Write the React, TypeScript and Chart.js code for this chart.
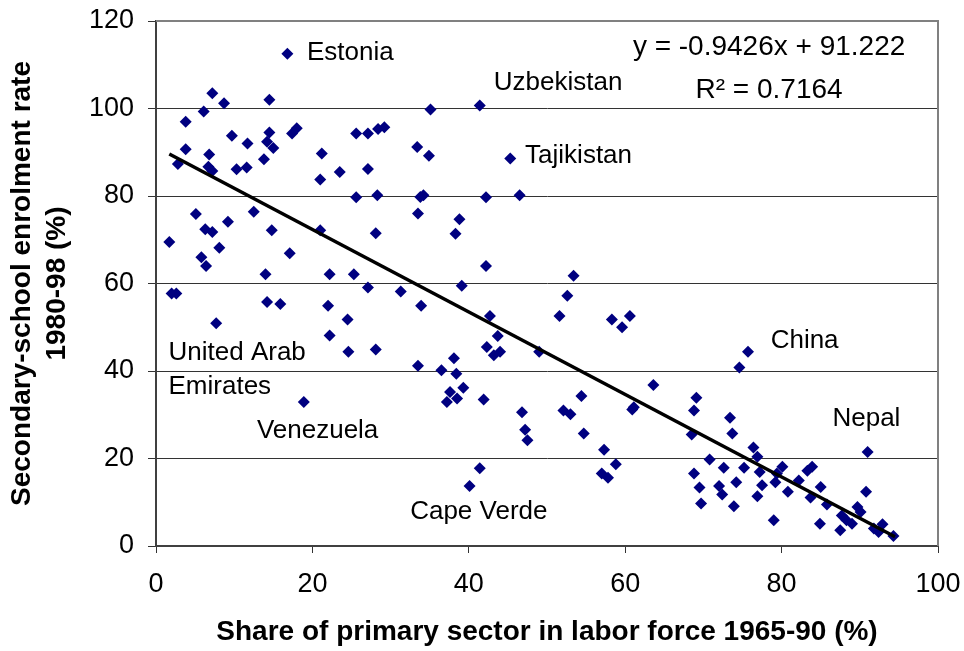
import React, { useEffect, useRef } from "react";
import { Chart, registerables } from "chart.js";

Chart.register(...registerables);

// Share of primary sector in labor force 1965-90 (%)
const primaryShare = [
  16.8, 7.2, 8.7, 14.5, 6.1, 3.8, 9.7, 11.7, 14.5, 14.2, 15.0, 17.4, 18.0, 25.6, 27.1, 28.4, 29.2,
  3.8, 2.8, 6.8, 6.7, 7.2, 10.3, 11.6, 13.8, 21.2, 21.0, 23.5, 27.1,
  35.1, 41.4, 33.4, 34.9, 45.3,
  33.8, 34.2, 42.2, 46.5, 33.5, 38.8, 38.3, 42.2, 53.4, 39.1, 31.3, 33.9, 52.6, 51.6, 58.3, 59.6,
  60.6, 42.7, 43.7, 42.3, 43.2, 44.0, 49.0, 33.5, 36.5, 38.1, 38.4,
  5.1, 1.7, 6.3, 7.2, 9.2, 12.5, 14.8, 21.0, 8.1, 5.8, 6.4, 17.1, 14.0, 22.2, 25.3, 27.1, 25.6,
  28.3, 28.1, 2.0, 2.6, 14.2, 15.9, 22.0, 24.5, 7.7, 22.2, 24.6, 28.1,
  18.9,
  39.3, 37.6, 38.5, 37.2, 41.9, 46.8, 47.2, 47.5, 52.1, 53.0, 54.4, 54.7, 57.3, 58.8, 57.0, 57.8,
  60.9, 61.1, 63.6, 41.4, 40.1,
  75.7, 74.6, 69.1, 68.8, 68.5, 73.4, 73.7, 76.4, 76.9, 70.8, 72.6, 68.8, 69.5, 69.7, 72.0, 72.4,
  74.2, 73.9, 75.2, 77.2, 77.5, 76.9, 80.1, 79.4, 79.2, 80.8, 79.0, 82.2, 83.3, 83.9, 85.0, 83.7,
  85.8, 84.9, 87.5, 87.7, 88.3, 89.0, 89.7, 90.1, 90.8, 91.0, 91.8, 92.4, 92.9, 94.3,
];

// Secondary-school enrolment rate 1980-98 (%)
const enrolment = [
  112.5, 103.5, 101.2, 102.0, 99.3, 97.0, 93.8, 92.0, 94.5, 92.4, 91.0, 94.3, 95.5, 94.3, 94.3, 95.3, 95.7,
  90.7, 87.3, 89.5, 86.7, 85.7, 86.1, 86.5, 88.4, 89.7, 83.8, 85.5, 86.2,
  99.8, 100.7, 91.2, 89.2, 88.6,
  79.8, 80.2, 79.7, 80.2, 76.0, 74.7, 71.4, 64.0, 61.8, 59.5, 58.2, 54.9, 57.2, 52.6, 51.8, 50.0,
  52.6, 52.6, 48.0, 45.5, 43.6, 44.4, 44.4, 41.2, 40.2, 42.9, 39.4,
  75.9, 69.5, 72.4, 71.8, 74.1, 76.4, 72.2, 72.2, 68.2, 66.0, 64.0, 66.9, 62.1, 62.1, 62.1, 59.1, 79.7,
  80.2, 71.5, 57.7, 57.7, 55.8, 55.3, 54.9, 51.8, 50.9, 48.1, 44.4, 44.9,
  32.9,
  36.2, 35.2, 33.7, 32.9, 33.5, 30.6, 26.6, 24.2, 31.0, 30.1, 34.3, 25.7, 22.0, 18.7, 16.6, 15.6,
  31.2, 31.7, 36.8, 17.8, 13.7,
  44.4, 40.8, 33.9, 31.0, 25.5, 29.3, 25.7, 22.5, 20.4, 19.8, 17.9, 16.6, 13.4, 9.7, 13.7, 11.8,
  14.6, 9.1, 17.9, 16.9, 13.9, 11.4, 18.1, 16.6, 14.6, 12.4, 5.9, 15.0, 17.2, 18.1, 13.5, 11.1,
  9.5, 5.1, 3.6, 7.0, 5.9, 5.1, 8.9, 7.8, 12.4, 21.5, 4.0, 3.2, 5.0, 2.3,
];

// Linear trend line endpoints (y = -0.9426x + 91.222)
const trendX = [1.7, 94.5];
const trendY = [89.6, 2.1];

// Axis ticks
const xTicks = [0, 20, 40, 60, 80, 100];
const yTicks = [0, 20, 40, 60, 80, 100, 120];

// Country annotations (left edge x, middle y in data units)
const labelTexts = [
  "Estonia",
  "Uzbekistan",
  "Tajikistan",
  "China",
  "Nepal",
  "United Arab",
  "Emirates",
  "Venezuela",
  "Cape Verde",
];
const labelX = [19.3, 43.2, 47.2, 78.6, 86.5, 1.6, 1.6, 12.9, 32.5];
const labelY = [112.8, 105.9, 89.2, 46.8, 29.0, 44.2, 36.3, 26.3, 7.9];

// Trend equation text (centered)
const equationLines = ["y = -0.9426x + 91.222", "R\u00B2 = 0.7164"];
const equationX = 78.4;
const equationY = [114.1, 104.2];

const FONT = "'Liberation Sans', Arial, Helvetica, sans-serif";

const annotationPlugin = {
  id: "annotations",
  beforeDatasetsDraw(chart: any) {
    const { ctx, chartArea } = chart;
    ctx.save();
    ctx.strokeStyle = "#808080";
    ctx.lineWidth = 2;
    ctx.beginPath();
    ctx.moveTo(chartArea.left, chartArea.top);
    ctx.lineTo(chartArea.right, chartArea.top);
    ctx.lineTo(chartArea.right, chartArea.bottom);
    ctx.stroke();
    ctx.restore();
  },
  afterDatasetsDraw(chart: any) {
    const { ctx } = chart;
    const xs = chart.scales.x;
    const ys = chart.scales.y;
    ctx.save();
    ctx.fillStyle = "#000";
    ctx.font = `26px ${FONT}`;
    ctx.textBaseline = "middle";
    ctx.textAlign = "left";
    labelTexts.forEach((t, i) => {
      ctx.fillText(t, xs.getPixelForValue(labelX[i]), ys.getPixelForValue(labelY[i]));
    });
    ctx.font = `28px ${FONT}`;
    ctx.textAlign = "center";
    equationLines.forEach((t, i) => {
      ctx.fillText(t, xs.getPixelForValue(equationX), ys.getPixelForValue(equationY[i]));
    });
    ctx.restore();
  },
};

export default function App() {
  const canvasRef = useRef<HTMLCanvasElement | null>(null);

  useEffect(() => {
    const canvas = canvasRef.current;
    if (!canvas) return;
    const points = primaryShare.map((x, i) => ({ x, y: enrolment[i] }));
    const trend = trendX.map((x, i) => ({ x, y: trendY[i] }));

    const chart = new Chart(canvas, {
      type: "scatter",
      data: {
        datasets: [
          {
            type: "line",
            label: "Trend",
            data: trend,
            borderColor: "#000",
            borderWidth: 3.5,
            pointRadius: 0,
            fill: false,
            order: 0,
          } as any,
          {
            type: "scatter",
            label: "Countries",
            data: points,
            pointStyle: "rectRot",
            pointRadius: 6,
            backgroundColor: "#000080",
            borderColor: "#000080",
            borderWidth: 0,
            order: 1,
          } as any,
        ],
      },
      options: {
        responsive: false,
        animation: false,
        devicePixelRatio: 1,
        layout: { padding: { top: 21, right: 26, left: 0, bottom: 0 } },
        plugins: {
          legend: { display: false },
          tooltip: { enabled: false },
        },
        scales: {
          x: {
            type: "linear",
            min: 0,
            max: 100,
            afterBuildTicks: (scale: any) => {
              scale.ticks = xTicks.map((v) => ({ value: v }));
            },
            afterFit: (scale: any) => {
              scale.height = 105;
              scale.paddingLeft = 0;
              scale.paddingRight = 0;
            },
            ticks: {
              color: "#000",
              font: { family: FONT, size: 27 },
              padding: 15,
              maxRotation: 0,
            },
            grid: {
              drawOnChartArea: false,
              drawTicks: true,
              tickLength: 7,
              color: "#333",
            },
            border: { display: true, color: "#404040", width: 2 },
            title: {
              display: true,
              text: "Share of primary sector in labor force 1965-90 (%)",
              color: "#000",
              font: { family: FONT, size: 28, weight: "bold" },
              padding: { top: 0, bottom: 2 },
            },
          },
          y: {
            type: "linear",
            min: 0,
            max: 120,
            afterBuildTicks: (scale: any) => {
              scale.ticks = yTicks.map((v) => ({ value: v }));
            },
            afterFit: (scale: any) => {
              scale.width = 156;
              scale.paddingTop = 0;
              scale.paddingBottom = 0;
            },
            ticks: {
              color: "#000",
              font: { family: FONT, size: 27 },
              padding: 14,
            },
            grid: {
              drawOnChartArea: true,
              drawTicks: true,
              tickLength: 8,
              color: "#333",
              lineWidth: 1,
            },
            border: { display: true, color: "#404040", width: 2 },
            title: {
              display: true,
              text: ["Secondary-school enrolment rate", "1980-98 (%)"],
              color: "#000",
              font: { family: FONT, size: 28, weight: "bold", lineHeight: 1.25 },
              padding: { top: 5, bottom: 0 },
            },
          },
        },
      },
      plugins: [annotationPlugin],
    } as any);

    return () => {
      chart.destroy();
    };
  }, []);

  return (
    <div style={{ position: "absolute", left: 0, top: 0, width: 964, height: 651, background: "#fff" }}>
      <canvas ref={canvasRef} width={964} height={651} style={{ display: "block" }} />
    </div>
  );
}
